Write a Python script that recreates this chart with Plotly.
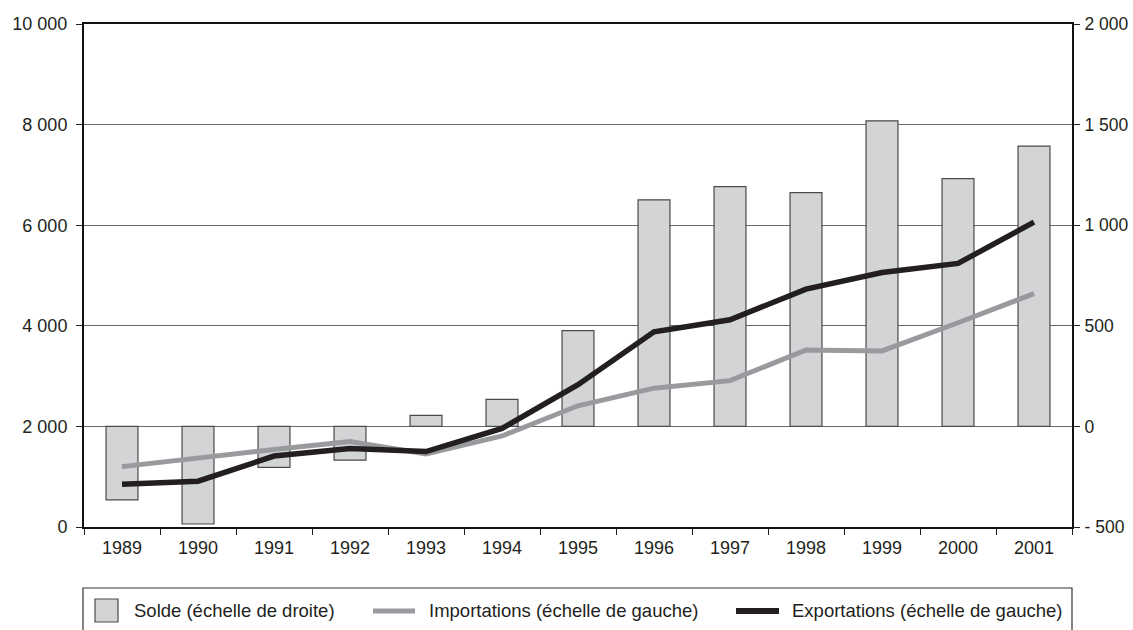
import plotly.graph_objects as go

# Années
annees = ["1989", "1990", "1991", "1992", "1993", "1994", "1995",
          "1996", "1997", "1998", "1999", "2000", "2001"]

# Solde commercial (échelle de droite)
solde = [-365, -485, -204, -168, 55, 134, 476, 1126, 1192, 1162, 1519, 1231, 1393]

# Importations et exportations (échelle de gauche)
importations = [1200, 1380, 1540, 1700, 1450, 1810, 2410, 2760, 2910, 3520, 3500, 4060, 4640]
exportations = [850, 910, 1410, 1560, 1500, 1960, 2830, 3880, 4120, 4730, 5060, 5240, 6060]

# Graduations
gauche_vals = [0, 2000, 4000, 6000, 8000, 10000]
gauche_txt = ["0", "2 000", "4 000", "6 000", "8 000", "10 000"]
droite_vals = [-500, 0, 500, 1000, 1500, 2000]
droite_txt = ["- 500", "0", "500", "1 000", "1 500", "2 000"]

# Légende
noms = ["Solde (échelle de droite)",
        "Importations (échelle de gauche)",
        "Exportations (échelle de gauche)"]

FONT = "Liberation Sans, Arial, sans-serif"
FS = 18
TXT = "#231f20"
BAR_FILL = "#d3d4d6"
BAR_LINE = "#4a4a4a"
GRIS = "#999a9e"
NOIR = "#231f20"

W, H = 1133, 630
ML, MR, MT, MB = 84, 61, 24, 103
PW = W - ML - MR
PH = H - MT - MB


def px_x(px):
    return (px - ML) / PW


def px_y(py):
    return (H - MB - py) / PH


fig = go.Figure()

fig.add_trace(go.Bar(
    x=annees, y=solde, name=noms[0], yaxis="y",
    marker=dict(color=BAR_FILL, line=dict(color=BAR_LINE, width=1.2)),
    width=0.42, showlegend=False,
))
fig.add_trace(go.Scatter(
    x=annees, y=importations, name=noms[1], yaxis="y2", mode="lines",
    line=dict(color=GRIS, width=5), showlegend=False,
))
fig.add_trace(go.Scatter(
    x=annees, y=exportations, name=noms[2], yaxis="y2", mode="lines",
    line=dict(color=NOIR, width=5.5), showlegend=False,
))

fig.update_layout(
    width=W, height=H,
    margin=dict(l=ML, r=MR, t=MT, b=MB, pad=0, autoexpand=False),
    paper_bgcolor="white", plot_bgcolor="white",
    font=dict(family=FONT, size=FS, color=TXT),
    xaxis=dict(
        type="category", tickson="boundaries", ticks="outside", ticklen=6,
        tickwidth=1, tickcolor="#222", showline=True, linecolor="#111",
        linewidth=2, mirror=True, showgrid=False, automargin=False,
        ticklabelstandoff=3, tickfont=dict(size=FS, color=TXT),
    ),
    yaxis=dict(
        side="right", range=[-500, 2000], tickvals=droite_vals,
        ticktext=droite_txt, ticks="outside", ticklen=6, tickcolor="#222",
        showline=True, linecolor="#111", linewidth=2, automargin=False,
        showgrid=True, gridcolor="#6a6a6a", gridwidth=1, zeroline=False,
        ticklabelstandoff=1, tickfont=dict(size=17.5, color=TXT),
    ),
    yaxis2=dict(
        side="left", overlaying="y", range=[0, 10000], tickvals=gauche_vals,
        ticktext=gauche_txt, ticks="outside", ticklen=6, tickcolor="#222",
        showline=True, linecolor="#111", linewidth=2, automargin=False,
        showgrid=False, zeroline=False,
        ticklabelstandoff=5, tickfont=dict(size=FS, color=TXT),
    ),
)

# Cadre de la légende
fig.add_shape(type="rect", xref="paper", yref="paper",
              x0=px_x(83), x1=px_x(1072), y0=px_y(588), y1=px_y(660),
              line=dict(color="#333", width=1.2), fillcolor="rgba(0,0,0,0)")

# Symboles de la légende
fig.add_shape(type="rect", xref="paper", yref="paper",
              x0=px_x(95), x1=px_x(118), y0=px_y(599), y1=px_y(622),
              line=dict(color=BAR_LINE, width=1.2), fillcolor=BAR_FILL)
fig.add_shape(type="line", xref="paper", yref="paper",
              x0=px_x(373), x1=px_x(415), y0=px_y(611), y1=px_y(611),
              line=dict(color=GRIS, width=5))
fig.add_shape(type="line", xref="paper", yref="paper",
              x0=px_x(736), x1=px_x(779), y0=px_y(611), y1=px_y(611),
              line=dict(color=NOIR, width=6))

for nom, xpx in zip(noms, [132, 427, 790]):
    fig.add_annotation(text=nom, xref="paper", yref="paper",
                       x=px_x(xpx), y=px_y(610), xanchor="left",
                       yanchor="middle", showarrow=False,
                       font=dict(size=18.5, color=TXT))

fig.write_html("out.html")
